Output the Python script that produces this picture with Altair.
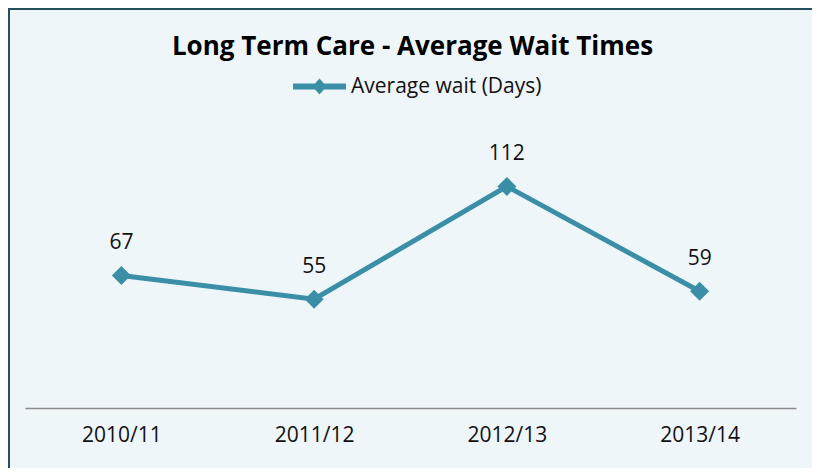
import altair as alt
import pandas as pd

categories = ["2010/11", "2011/12", "2012/13", "2013/14"]
values = [67, 55, 112, 59]
series_name = "Average wait (Days)"
title_text = "Long Term Care - Average Wait Times"

df = pd.DataFrame({"year": categories, "wait": values, "series": [series_name] * len(values)})

TEAL = "#3A8FA6"
BG = "#EEF6FA"
FONT = "Open Sans"

W, H = 771, 277
PL, PT = 17, 123
PR, PB = 804 - PL - W, 460 - PT - H

legend_path = ("M-1,-0.11 L1,-0.11 L1,0.11 L-1,0.11 Z "
               "M0,-0.3 L0.27,0 L0,0.3 L-0.27,0 Z")

x_enc = alt.X("year:N", sort=categories, title=None,
              scale=alt.Scale(paddingInner=0, paddingOuter=0),
              axis=alt.Axis(labelAngle=0, ticks=False, domainColor="#8A8A8A", domainWidth=1.5,
                            labelFontSize=21, labelPadding=16, labelColor="#111111", labelFont=FONT,
                            grid=False))
y_enc = alt.Y("wait:Q", scale=alt.Scale(domain=[0, 140]), axis=None)

base = alt.Chart(df).encode(x=x_enc, y=y_enc)

line = base.mark_line(strokeWidth=5).encode(
    color=alt.Color("series:N", scale=alt.Scale(range=[TEAL]),
                    legend=alt.Legend(orient="none", legendX=268, legendY=-71, title=None,
                                      symbolType=legend_path, symbolSize=2809,
                                      symbolFillColor=TEAL, symbolStrokeWidth=0,
                                      labelFontSize=21, labelFont=FONT, labelColor="#111111",
                                      labelOffset=5, labelLimit=500))
)
points = base.mark_point(shape="diamond", filled=True, size=360, opacity=1, color=TEAL)
labels = base.mark_text(fontSize=21, font=FONT, dy=-26, baseline="alphabetic", color="#111111").encode(
    text="wait:Q")

frame_df = pd.DataFrame({"t": [title_text]})
title = alt.Chart(frame_df).mark_text(fontSize=26, font=FONT, fontWeight="bold", color="#000000",
                                      baseline="middle", align="center").encode(
    text="t:N", x=alt.value(W / 2 + 2), y=alt.value(-84))

# chart frame: only the left and top edges show in the reference (filled thin bars)
left_edge = alt.Chart(frame_df).mark_rect(fill="#244F5C", strokeWidth=0).encode(
    x=alt.value(-PL), x2=alt.value(-PL + 2), y=alt.value(-PT), y2=alt.value(H + PB))
top_edge = alt.Chart(frame_df).mark_rect(fill="#244F5C", strokeWidth=0).encode(
    x=alt.value(-PL), x2=alt.value(W + PR), y=alt.value(-PT), y2=alt.value(-PT + 2))

chart = alt.layer(left_edge, top_edge, title, line, points, labels).properties(
    width=W, height=H,
    autosize=alt.AutoSizeParams(type="none"),
    padding={"left": PL, "top": PT, "right": PR, "bottom": PB},
    background=BG,
).configure_view(stroke=None)

chart.save("out.html", embed_options={"renderer": "svg", "actions": False})
